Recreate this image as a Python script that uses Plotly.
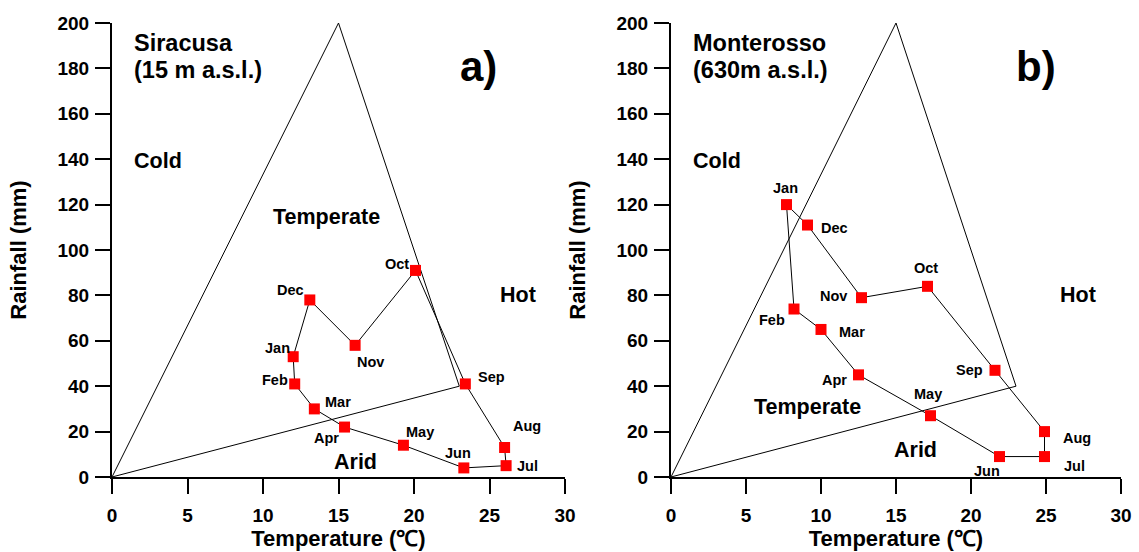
import plotly.graph_objects as go

# Monthly climate data (temperature in degC, rainfall in mm), Jan..Dec
months = ["Jan", "Feb", "Mar", "Apr", "May", "Jun",
          "Jul", "Aug", "Sep", "Oct", "Nov", "Dec"]

siracusa_temp = [12.0, 12.1, 13.4, 15.4, 19.3, 23.3, 26.1, 26.0, 23.4, 20.1, 16.1, 13.1]
siracusa_rain = [53, 41, 30, 22, 14, 4, 5, 13, 41, 91, 58, 78]

monterosso_temp = [7.7, 8.2, 10.0, 12.5, 17.3, 21.9, 24.9, 24.9, 21.6, 17.1, 12.7, 9.1]
monterosso_rain = [120, 74, 65, 45, 27, 9, 9, 20, 47, 84, 79, 111]

# Peguy climograph triangle vertices
triangle_temp = [0, 15, 23, 0]
triangle_rain = [0, 200, 40, 0]

# Climate zone labels: (text, temperature, rainfall)
zones_a = [("Cold", 3.05, 139), ("Temperate", 14.2, 114.5), ("Hot", 26.9, 80), ("Arid", 16.1, 6.6)]
zones_b = [("Cold", 3.05, 139), ("Temperate", 9.1, 31), ("Hot", 27.1, 80), ("Arid", 16.3, 12)]

# Pixel offsets of month labels relative to their markers
offsets_a = [(-16, 9), (-20, 4), (24, 7), (-18, -11), (17, 13), (-6, 15),
             (21, 0), (22, 21), (26, 7), (-19, 6), (15, -17), (-19, 10)]
offsets_b = [(-1, 17), (-22, -11), (31, -3), (-24, -5), (-3, 22), (-13, -14),
             (30, -9), (32, -6), (-26, 0), (-2, 18), (-28, 2), (27, -3)]

FONT = "Liberation Sans"

fig = go.Figure()
annotations = []

panels = [
    ("x", "y", siracusa_temp, siracusa_rain, zones_a, offsets_a,
     ["Siracusa", "(15 m a.s.l.)"], "a)"),
    ("x2", "y2", monterosso_temp, monterosso_rain, zones_b, offsets_b,
     ["Monterosso", "(630m a.s.l.)"], "b)"),
]

for xa, ya, temp, rain, zones, offsets, site, tag in panels:
    fig.add_trace(go.Scatter(
        x=triangle_temp, y=triangle_rain, xaxis=xa, yaxis=ya,
        mode="lines", line=dict(color="black", width=1),
        showlegend=False, hoverinfo="skip", cliponaxis=False))
    fig.add_trace(go.Scatter(
        x=temp + temp[:1], y=rain + rain[:1], xaxis=xa, yaxis=ya,
        mode="lines", line=dict(color="black", width=1),
        showlegend=False, cliponaxis=False))
    fig.add_trace(go.Scatter(
        x=temp, y=rain, xaxis=xa, yaxis=ya, mode="markers",
        marker=dict(symbol="square", size=11, color="#ff0000"),
        text=months, showlegend=False, cliponaxis=False))

    for m, t, r, (dx, dy) in zip(months, temp, rain, offsets):
        annotations.append(dict(
            x=t, y=r, xref=xa, yref=ya, text=m, showarrow=False,
            xshift=dx, yshift=dy,
            font=dict(family=FONT, size=14.5, color="black", weight="bold")))

    for name, t, r in zones:
        annotations.append(dict(
            x=t, y=r, xref=xa, yref=ya, text=name, showarrow=False,
            font=dict(family=FONT, size=21.5, color="black", weight="bold")))

    xdom = "x domain" if xa == "x" else "x2 domain"
    ydom = "y domain" if ya == "y" else "y2 domain"
    for line_text, ypos in zip(site, [0.956, 0.8965]):
        annotations.append(dict(
            x=0.045, y=ypos, xref=xdom, yref=ydom, xanchor="left", yanchor="middle",
            text=line_text, showarrow=False,
            font=dict(family=FONT, size=23.5, color="black", weight="bold")))
    annotations.append(dict(
        x=0.81, y=0.905, xref=xdom, yref=ydom, xanchor="center", yanchor="middle",
        text=tag, showarrow=False,
        font=dict(family=FONT, size=42, color="black", weight="bold")))

axis_common = dict(
    showgrid=False, zeroline=False, showline=True, linecolor="black",
    linewidth=2, ticks="outside", ticklen=15, tickwidth=2, tickcolor="black",
    automargin=False,
    tickfont=dict(family=FONT, size=19, color="black", weight="bold"),
)

xaxis_style = dict(axis_common, range=[0, 30], tickvals=[0, 5, 10, 15, 20, 25, 30],
                   ticklabelstandoff=5,
                   title=dict(text="Temperature (℃)", standoff=2,
                              font=dict(family=FONT, size=22, color="black", weight="bold")))
yaxis_style = dict(axis_common, range=[0, 200], tickvals=list(range(0, 201, 20)),
                   ticklabelstandoff=2,
                   title=dict(text="Rainfall (mm)", standoff=25,
                              font=dict(family=FONT, size=22, color="black", weight="bold")))

W, H = 1139, 552
ydom_frac = [(H - 477) / H, (H - 23) / H]

fig.update_layout(
    width=W, height=H,
    margin=dict(l=0, r=0, t=0, b=0, autoexpand=False),
    paper_bgcolor="white", plot_bgcolor="white",
    xaxis=dict(xaxis_style, domain=[112 / W, 565 / W], anchor="y"),
    yaxis=dict(yaxis_style, domain=ydom_frac, anchor="x"),
    xaxis2=dict(xaxis_style, domain=[671 / W, 1121 / W], anchor="y2"),
    yaxis2=dict(yaxis_style, domain=ydom_frac, anchor="x2"),
    annotations=annotations,
    showlegend=False,
)

fig.write_html("out.html")
